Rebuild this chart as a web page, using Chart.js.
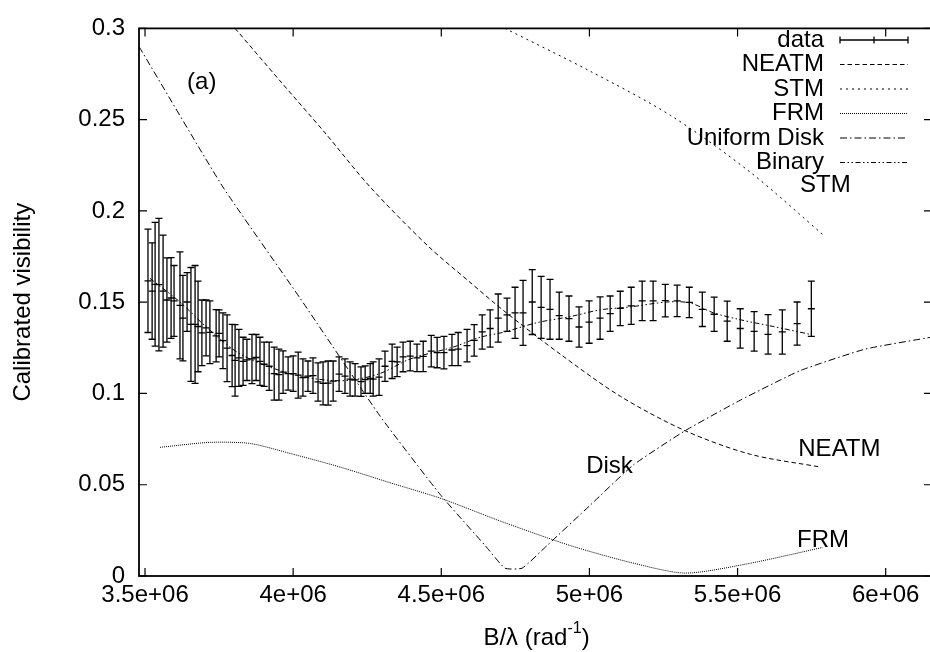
<!DOCTYPE html>
<html>
<head>
<meta charset="utf-8">
<title>Calibrated visibility</title>
<script src="https://cdn.jsdelivr.net/npm/chart.js@4.4.1/dist/chart.umd.min.js"></script>
<style>
  html, body { margin: 0; padding: 0; background: #fff; overflow: hidden; }
  #caja { width: 940px; height: 652px; }
</style>
</head>
<body>
<div id="caja"><canvas id="grafica" width="940" height="652"></canvas></div>
<script>
// measured visibilities (B/lambda in rad^-1) with their error bars
const datosX = [3.510e6, 3.524e6, 3.534e6, 3.547e6, 3.561e6, 3.574e6, 3.588e6, 3.598e6, 3.618e6, 3.628e6,
  3.642e6, 3.655e6, 3.669e6, 3.679e6, 3.692e6, 3.706e6, 3.719e6, 3.740e6, 3.750e6, 3.763e6,
  3.777e6, 3.794e6, 3.804e6, 3.817e6, 3.831e6, 3.844e6, 3.861e6, 3.875e6, 3.888e6, 3.902e6,
  3.919e6, 3.936e6, 3.952e6, 3.966e6, 3.983e6, 4.000e6, 4.017e6, 4.033e6, 4.050e6, 4.067e6,
  4.084e6, 4.101e6, 4.118e6, 4.135e6, 4.155e6, 4.175e6, 4.192e6, 4.209e6, 4.229e6, 4.243e6,
  4.260e6, 4.270e6, 4.290e6, 4.310e6, 4.334e6, 4.351e6, 4.371e6, 4.395e6, 4.418e6, 4.439e6,
  4.466e6, 4.486e6, 4.509e6, 4.536e6, 4.557e6, 4.587e6, 4.611e6, 4.638e6, 4.665e6, 4.692e6,
  4.722e6, 4.749e6, 4.776e6, 4.807e6, 4.837e6, 4.867e6, 4.898e6, 4.931e6, 4.965e6, 4.999e6,
  5.036e6, 5.070e6, 5.104e6, 5.141e6, 5.178e6, 5.215e6, 5.256e6, 5.296e6, 5.337e6, 5.381e6,
  5.421e6, 5.465e6, 5.509e6, 5.556e6, 5.603e6, 5.651e6, 5.701e6, 5.749e6]
const datosV = [0.1617, 0.1561, 0.1598, 0.1596, 0.1561, 0.1512, 0.1523, 0.1507, 0.1483, 0.1413,
  0.1501, 0.1378, 0.1378, 0.1367, 0.1332, 0.1359, 0.1335, 0.1316, 0.1329, 0.1289,
  0.1248, 0.1208, 0.1181, 0.1195, 0.1176, 0.1184, 0.1189, 0.1197, 0.1176, 0.1160,
  0.1149, 0.1109, 0.1103, 0.1117, 0.1109, 0.1109, 0.1100, 0.1087, 0.1095, 0.1098,
  0.1063, 0.1055, 0.1057, 0.1068, 0.1106, 0.1095, 0.1079, 0.1074, 0.1065, 0.1076,
  0.1082, 0.1079, 0.1090, 0.1149, 0.1176, 0.1173, 0.1200, 0.1205, 0.1195, 0.1203,
  0.1232, 0.1224, 0.1224, 0.1238, 0.1243, 0.1262, 0.1291, 0.1337, 0.1356, 0.1413,
  0.1431, 0.1442, 0.1442, 0.1501, 0.1472, 0.1461, 0.1426, 0.1410, 0.1364, 0.1391,
  0.1413, 0.1437, 0.1466, 0.1480, 0.1507, 0.1507, 0.1509, 0.1507, 0.1499, 0.1461,
  0.1434, 0.1396, 0.1356, 0.1340, 0.1324, 0.1337, 0.1383, 0.1464]
const datosErr = [0.0283, 0.0264, 0.0339, 0.0363, 0.0307, 0.0231, 0.0221, 0.0194, 0.0293, 0.0234,
  0.0161, 0.0312, 0.0323, 0.0248, 0.0180, 0.0153, 0.0172, 0.0143, 0.0129, 0.0153,
  0.0183, 0.0170, 0.0196, 0.0156, 0.0132, 0.0113, 0.0135, 0.0126, 0.0132, 0.0121,
  0.0132, 0.0145, 0.0140, 0.0116, 0.0091, 0.0097, 0.0126, 0.0102, 0.0083, 0.0097,
  0.0105, 0.0118, 0.0121, 0.0110, 0.0094, 0.0094, 0.0094, 0.0089, 0.0081, 0.0075,
  0.0081, 0.0094, 0.0100, 0.0083, 0.0094, 0.0081, 0.0081, 0.0081, 0.0075, 0.0083,
  0.0086, 0.0083, 0.0089, 0.0086, 0.0091, 0.0089, 0.0086, 0.0094, 0.0102, 0.0132,
  0.0091, 0.0140, 0.0178, 0.0178, 0.0170, 0.0164, 0.0129, 0.0124, 0.0110, 0.0116,
  0.0116, 0.0097, 0.0094, 0.0102, 0.0108, 0.0108, 0.0089, 0.0086, 0.0083, 0.0094,
  0.0094, 0.0110, 0.0108, 0.0108, 0.0108, 0.0121, 0.0118, 0.0151]

// thermal and geometric models
const neatmX = [3.804e6, 3.956e6, 4.108e6, 4.260e6, 4.455e6, 4.597e6, 4.715e6, 4.901e6, 5.104e6, 5.323e6, 5.543e6, 5.779e6]
const neatmV = [0.300, 0.2712, 0.2427, 0.2131, 0.1808, 0.1609, 0.1448, 0.1216, 0.0985, 0.0796, 0.0667, 0.0597]

const stmX = [4.715e6, 5.002e6, 5.273e6, 5.543e6, 5.786e6]
const stmV = [0.300, 0.2766, 0.2524, 0.2212, 0.1873]

const frmX = [3.551e6, 3.719e6, 3.855e6, 4.000e6, 4.158e6, 4.327e6, 4.499e6, 4.699e6, 4.935e6, 5.137e6, 5.323e6, 5.543e6, 5.786e6]
const frmV = [0.0705, 0.0732, 0.0726, 0.0667, 0.0597, 0.0511, 0.0425, 0.0301, 0.0167, 0.0075, 0.0016, 0.0070, 0.0156]

const discoX = [3.480e6, 3.763e6, 4.023e6, 4.293e6, 4.496e6, 4.648e6, 4.715e6, 4.773e6, 4.857e6, 5.002e6, 5.148e6, 5.323e6, 5.509e6, 5.711e6, 5.931e6, 6.160e6]
const discoV = [0.2900, 0.2131, 0.1523, 0.0877, 0.0447, 0.0167, 0.0043, 0.0043, 0.0167, 0.0387, 0.0608, 0.0796, 0.0963, 0.1125, 0.1243, 0.1310]

const binX = [3.517e6, 3.618e6, 3.709e6, 3.821e6, 3.956e6, 4.067e6, 4.182e6, 4.293e6, 4.395e6, 4.540e6, 4.631e6,
  4.709e6, 4.823e6, 4.935e6, 5.036e6, 5.137e6, 5.262e6, 5.340e6, 5.418e6, 5.509e6, 5.620e6, 5.745e6]
const binV = [0.1630, 0.1501, 0.1361, 0.1216, 0.1125, 0.1082, 0.1071, 0.1109, 0.1189, 0.1254, 0.1308,
  0.1335, 0.1388, 0.1421, 0.1458, 0.1474, 0.1501, 0.1496, 0.1442, 0.1404, 0.1367, 0.1324]

// axis ticks
const ticksX = [3.5e6, 4e6, 4.5e6, 5e6, 5.5e6, 6e6]
const etiquetasX = ['3.5e+06', '4e+06', '4.5e+06', '5e+06', '5.5e+06', '6e+06']
const ticksY = [0, 0.05, 0.1, 0.15, 0.2, 0.25, 0.3]
const etiquetasY = ['0', '0.05', '0.1', '0.15', '0.2', '0.25', '0.3']

// text labels inside the plot, anchored at data coordinates
const textos = ['(a)', 'STM', 'NEATM', 'Disk', 'FRM']
const textosX = [3.642e6, 5.711e6, 5.705e6, 4.989e6, 5.701e6]
const textosY = [0.2707, 0.2142, 0.0694, 0.0603, 0.0194]

const fuente = '"Liberation Sans", Arial, Helvetica, sans-serif'
const negro = '#000'

const pares = (xs, ys) => xs.map((v, i) => ({ x: v, y: ys[i] }))

const curvas = [
  { label: 'NEATM', xs: neatmX, ys: neatmV, dash: [4.5, 3], tension: 0.3 },
  { label: 'STM', xs: stmX, ys: stmV, dash: [2, 4], tension: 0.3 },
  { label: 'FRM', xs: frmX, ys: frmV, dash: [1, 1], tension: 0.25 },
  { label: 'Uniform Disk', xs: discoX, ys: discoV, dash: [7, 3, 1.5, 3], tension: 0.15 },
  { label: 'Binary', xs: binX, ys: binV, dash: [5, 2.5, 1.5, 2.5, 1.5, 2.5], tension: 0.3 }
]

// error bars, frame with inward ticks, legend and titles
const gnuplotPlugin = {
  id: 'gnuplot',
  beforeDatasetsDraw(chart) {
    const { ctx, scales: { x, y } } = chart
    ctx.save()
    ctx.strokeStyle = negro
    ctx.lineWidth = 1.3
    datosX.forEach((bx, i) => {
      const px = x.getPixelForValue(bx)
      const arriba = y.getPixelForValue(datosV[i] + datosErr[i])
      const abajo = y.getPixelForValue(datosV[i] - datosErr[i])
      ctx.beginPath()
      ctx.moveTo(px, arriba); ctx.lineTo(px, abajo)
      ctx.moveTo(px - 3.5, arriba); ctx.lineTo(px + 3.5, arriba)
      ctx.moveTo(px - 3.5, abajo); ctx.lineTo(px + 3.5, abajo)
      ctx.stroke()
    })
    ctx.restore()
  },
  afterDraw(chart) {
    const { ctx, chartArea: a, scales: { x, y } } = chart
    ctx.save()
    ctx.strokeStyle = negro
    ctx.fillStyle = negro

    // frame
    ctx.lineWidth = 1.8
    ctx.strokeRect(a.left, a.top, a.right - a.left, a.bottom - a.top)

    // inward tick marks on all four sides
    ctx.lineWidth = 1.2
    ctx.beginPath()
    ticksX.forEach(v => {
      const px = x.getPixelForValue(v)
      ctx.moveTo(px, a.bottom); ctx.lineTo(px, a.bottom - 8)
      ctx.moveTo(px, a.top); ctx.lineTo(px, a.top + 8)
    })
    ticksY.forEach(v => {
      const py = y.getPixelForValue(v)
      ctx.moveTo(a.left, py); ctx.lineTo(a.left + 8, py)
      ctx.moveTo(a.right, py); ctx.lineTo(a.right - 8, py)
    })
    ctx.stroke()

    // labels on the curves
    ctx.font = '24px ' + fuente
    ctx.textAlign = 'left'
    ctx.textBaseline = 'middle'
    textos.forEach((t, i) => {
      ctx.fillText(t, x.getPixelForValue(textosX[i]), y.getPixelForValue(textosY[i]))
    })

    // legend: text right aligned, line sample on the right
    const filas = ['data'].concat(curvas.map(c => c.label))
    const x0 = 840, x1 = 908
    filas.forEach((nombre, i) => {
      const fy = 40 + i * 24.5
      ctx.textAlign = 'right'
      ctx.fillText(nombre, 824, fy)
      ctx.beginPath()
      if (i === 0) {
        ctx.lineWidth = 1.3
        ctx.setLineDash([])
        ctx.moveTo(x0, fy); ctx.lineTo(x1, fy)
        ctx.moveTo(x0, fy - 3.5); ctx.lineTo(x0, fy + 3.5)
        ctx.moveTo(x1, fy - 3.5); ctx.lineTo(x1, fy + 3.5)
        ctx.moveTo((x0 + x1) / 2, fy - 3.5); ctx.lineTo((x0 + x1) / 2, fy + 3.5)
      } else {
        ctx.lineWidth = 1
        ctx.setLineDash(curvas[i - 1].dash)
        ctx.moveTo(x0, fy); ctx.lineTo(x1, fy)
      }
      ctx.stroke()
    })
    ctx.setLineDash([])

    // x title with superscript
    const cx = (a.left + Math.min(a.right, 930)) / 2 + 2
    const base = 645
    ctx.textBaseline = 'alphabetic'
    ctx.textAlign = 'left'
    ctx.font = '24px ' + fuente
    const t1 = 'B/λ (rad'
    ctx.font = '16px ' + fuente
    const wSup = ctx.measureText('-1').width
    ctx.font = '24px ' + fuente
    const w1 = ctx.measureText(t1).width
    const w2 = ctx.measureText(')').width
    let tx = cx - (w1 + wSup + w2) / 2
    ctx.fillText(t1, tx, base)
    tx += w1
    ctx.font = '16px ' + fuente
    ctx.fillText('-1', tx, base - 12)
    tx += wSup
    ctx.font = '24px ' + fuente
    ctx.fillText(')', tx, base)

    // y title
    ctx.translate(23, (a.top + a.bottom) / 2)
    ctx.rotate(-Math.PI / 2)
    ctx.textAlign = 'center'
    ctx.textBaseline = 'middle'
    ctx.fillText('Calibrated visibility', 0, 0)
    ctx.restore()
  }
}

const grafica = document.getElementById('grafica').getContext('2d')

const conjuntos = [{
  label: 'data',
  data: pares(datosX, datosV),
  showLine: false,
  pointStyle: 'line',
  pointRadius: 3.5,
  pointBorderWidth: 1.3,
  borderColor: negro,
  backgroundColor: negro
}].concat(curvas.map(c => ({
  label: c.label,
  data: pares(c.xs, c.ys),
  showLine: true,
  pointRadius: 0,
  borderColor: negro,
  borderWidth: 1,
  borderDash: c.dash,
  tension: c.tension,
  fill: false
})))

const myChart = new Chart(grafica, {
  type: 'scatter',
  data: { datasets: conjuntos },
  options: {
    responsive: false,
    animation: false,
    devicePixelRatio: 1,
    layout: { padding: { top: 18, right: 8, left: 0, bottom: 0 } },
    plugins: { legend: { display: false }, tooltip: { enabled: false } },
    scales: {
      x: {
        type: 'linear',
        min: 3.4797e6,
        max: 6.1563e6,
        afterFit: (s) => { s.height = 76 },
        afterBuildTicks: (s) => { s.ticks = ticksX.map(v => ({ value: v })) },
        grid: { display: false, drawTicks: false },
        border: { display: false },
        ticks: {
          callback: (v, i) => etiquetasX[i],
          autoSkip: false,
          maxRotation: 0,
          padding: 5,
          color: negro,
          font: { family: fuente, size: 24 }
        }
      },
      y: {
        min: 0,
        max: 0.3,
        afterFit: (s) => { s.width = 139 },
        afterBuildTicks: (s) => { s.ticks = ticksY.map(v => ({ value: v })) },
        grid: { display: false, drawTicks: false },
        border: { display: false },
        ticks: {
          callback: (v, i) => etiquetasY[i],
          autoSkip: false,
          padding: 14,
          color: negro,
          font: { family: fuente, size: 24 }
        }
      }
    }
  },
  plugins: [gnuplotPlugin]
})
</script>
</body>
</html>
